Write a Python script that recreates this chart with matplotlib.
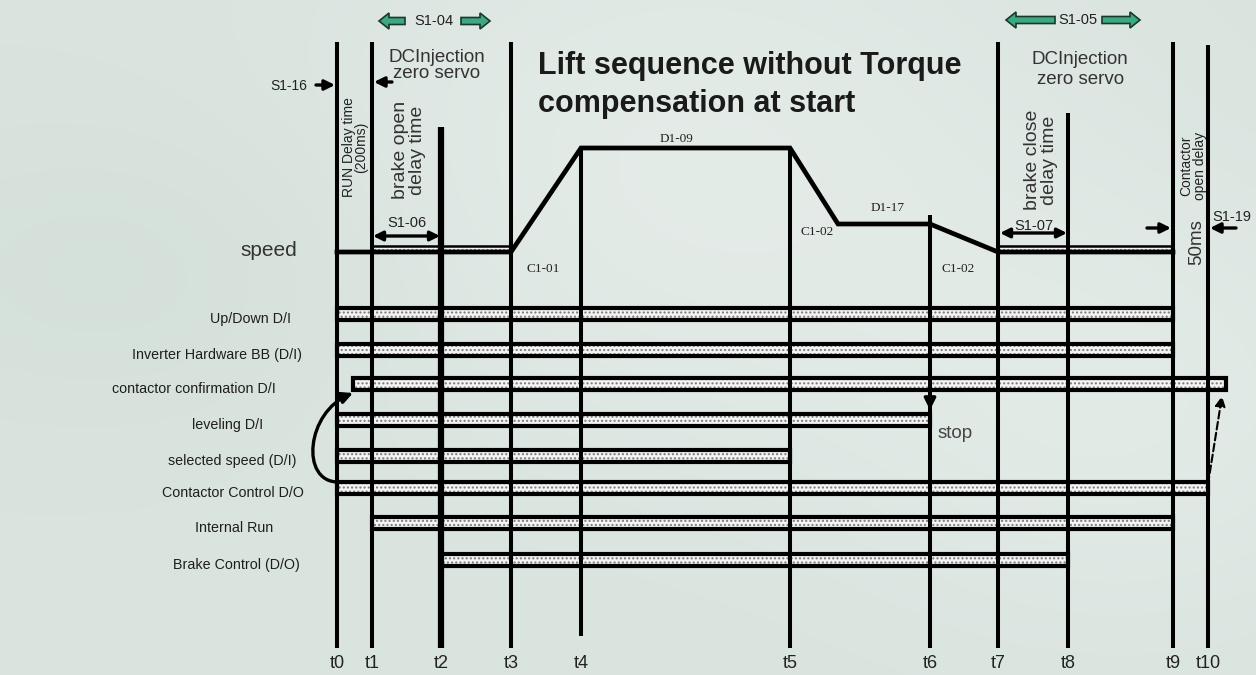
import numpy as np
import matplotlib
matplotlib.use("Agg")
import matplotlib.pyplot as plt
from matplotlib.patches import Rectangle, FancyArrowPatch, FancyArrow
from matplotlib.path import Path
from matplotlib import font_manager as fm

# ---------------- data (pixel space) ----------------
t_names = ["t0", "t1", "t2", "t3", "t4", "t5", "t6", "t7", "t8", "t9", "t10"]
t_pos = [337, 372, 441, 511, 581, 790, 930, 998, 1068, 1173, 1208]
t_top = [42, 42, 127, 42, 148, 148, 215, 42, 113, 42, 45]
t_bottom = [648, 648, 648, 648, 636, 648, 648, 648, 648, 648, 648]

speed_x = [337, 511, 581, 790, 838, 930, 998, 1173]
speed_y = [252, 252, 148, 148, 224, 224, 252, 252]
speed_labels = ["C1-01", "D1-09", "C1-02", "D1-17", "C1-02"]
speed_label_xy = [(543, 269), (676, 139), (817, 232), (888, 208), (958, 269)]

signal_names = ["Up/Down D/I", "Inverter Hardware BB (D/I)", "contactor confirmation D/I",
                "leveling D/I", "selected speed (D/I)", "Contactor Control D/O",
                "Internal Run", "Brake Control (D/O)"]
signal_start = [337, 337, 353, 337, 337, 337, 372, 441]
signal_end = [1173, 1173, 1226, 930, 790, 1208, 1173, 1068]
signal_y = [314, 350, 384, 420, 456, 488, 523, 560]
label_cx = [251, 217, 194, 228, 232, 233, 234, 236]

# ---------------- fonts ----------------
avail = {f.name for f in fm.fontManager.ttflist}
narrow = "Liberation Sans Narrow" if "Liberation Sans Narrow" in avail else "Liberation Sans"
SANS = ["Liberation Sans", "DejaVu Sans"]
NARROW = [narrow, "DejaVu Sans"]
SERIF = ["Liberation Serif", "DejaVu Serif"]

W, H = 1256, 675
fig = plt.figure(figsize=(W / 100, H / 100), dpi=100)
ax = fig.add_axes([0, 0, 1, 1])
ax.set_xlim(0, W)
ax.set_ylim(H, 0)
ax.axis("off")

# ---------------- background ----------------
yy, xx = np.mgrid[0:1:135j, 0:1:252j]
b = 0.5 + 0.25 * np.exp(-((xx - 0.55) ** 2 / 0.08 + (yy - 0.25) ** 2 / 0.15)) \
    + 0.2 * np.exp(-((xx - 0.9) ** 2 / 0.05 + (yy - 0.6) ** 2 / 0.1)) \
    - 0.15 * np.exp(-((xx - 0.1) ** 2 / 0.05 + (yy - 0.4) ** 2 / 0.05))
b = np.clip(b, 0, 1)
dark = np.array([0.78, 0.84, 0.81])
light = np.array([0.93, 0.95, 0.94])
img = dark[None, None, :] * (1 - b[..., None]) + light[None, None, :] * b[..., None]
ax.imshow(img, extent=(0, W, H, 0), aspect="auto", zorder=0, interpolation="bicubic")

# ---------------- vertical time lines ----------------
for name, x, yt, yb in zip(t_names, t_pos, t_top, t_bottom):
    lw = 4.5 if name == "t2" else 2.9
    ax.plot([x, x], [yt, yb], color="black", lw=lw, zorder=5, solid_capstyle="butt")
    ax.text(x, 663, name, ha="center", va="center", fontsize=13, family=NARROW, color="#222")

# ---------------- speed profile ----------------
ax.plot(speed_x, speed_y, color="black", lw=3.4, zorder=6, solid_joinstyle="miter")


def bar(x0, x1, yc, h, lw, zorder=4):
    ax.add_patch(Rectangle((x0, yc - h / 2), x1 - x0, h, facecolor="#f4f4f4",
                           edgecolor="#7a7a7a", hatch="....", lw=0, zorder=zorder))
    ax.add_patch(Rectangle((x0, yc - h / 2), x1 - x0, h, fill=False,
                           edgecolor="black", lw=lw, zorder=zorder + 0.5))


# thin DC injection bars on the zero-speed line
bar(t_pos[1], t_pos[3], 248.5, 6, 1.8)
bar(t_pos[7], t_pos[9], 248.5, 6, 1.8)

# ---------------- signal bars ----------------
for name, x0, x1, yc, cx in zip(signal_names, signal_start, signal_end, signal_y, label_cx):
    bar(x0, x1, yc, 12, 3.0)
    ax.text(cx, yc + 5, name, ha="center", va="center", fontsize=10.3, family=SANS, color="#1e1e1e")

# ---------------- texts ----------------
ax.text(538, 66, "Lift sequence without Torque", fontsize=22, fontweight="bold",
        family=SANS, color="#1a1a1a", va="center", ha="left")
ax.text(538, 104, "compensation at start", fontsize=22, fontweight="bold",
        family=SANS, color="#1a1a1a", va="center", ha="left")

ax.text(269, 250, "speed", fontsize=15, family=SANS, color="#333", ha="center", va="center")
ax.text(955, 434, "stop", fontsize=13.5, family=SANS, color="#444", ha="center", va="center")

for (lx, ly), s in zip(speed_label_xy, speed_labels):
    ax.text(lx, ly, s, fontsize=9.5, family=SERIF, color="#222", ha="center", va="center")

# DC injection labels
ax.text(437, 57, "DCInjection", fontsize=13.5, family=NARROW, color="#333", ha="center", va="center")
ax.text(437, 74, "zero servo", fontsize=13.5, family=NARROW, color="#333", ha="center", va="center")
ax.text(1080, 59, "DCInjection", fontsize=13.5, family=NARROW, color="#333", ha="center", va="center")
ax.text(1081, 80, "zero servo", fontsize=13.5, family=NARROW, color="#333", ha="center", va="center")

# rotated notes
ax.text(355, 147, "RUN Delay time\n(200ms)", rotation=90, fontsize=10, family=NARROW,
        color="#222", ha="center", va="center", linespacing=0.9)
ax.text(409, 150, "brake open\ndelay time", rotation=90, fontsize=14, family=NARROW,
        color="#333", ha="center", va="center", linespacing=0.95)
ax.text(1041, 160, "brake close\ndelay time", rotation=90, fontsize=14, family=NARROW,
        color="#333", ha="center", va="center", linespacing=0.95)
ax.text(1193, 166, "Contactor\nopen delay", rotation=90, fontsize=10, family=NARROW,
        color="#222", ha="center", va="center", linespacing=0.95)
ax.text(1197, 242, "50ms", rotation=90, fontsize=13.5, family=NARROW,
        color="#333", ha="center", va="center")

# parameter labels
ax.text(289, 86, "S1-16", fontsize=10, family=NARROW, color="#222", ha="center", va="center")
ax.text(407, 223, "S1-06", fontsize=10.5, family=NARROW, color="#222", ha="center", va="center")
ax.text(1034, 226, "S1-07", fontsize=10.5, family=NARROW, color="#222", ha="center", va="center")
ax.text(1232, 217, "S1-19", fontsize=10.5, family=NARROW, color="#222", ha="center", va="center")
ax.text(434, 21, "S1-04", fontsize=10.5, family=NARROW, color="#222", ha="center", va="center")
ax.text(1078, 20, "S1-05", fontsize=10.5, family=NARROW, color="#222", ha="center", va="center")


# ---------------- arrows ----------------
def arr(p0, p1, style="-|>", lw=2.4, ms=15, ls="-", z=8):
    ax.add_patch(FancyArrowPatch(p0, p1, arrowstyle=style, mutation_scale=ms, lw=lw,
                                 color="black", linestyle=ls, zorder=z,
                                 shrinkA=0, shrinkB=0))


arr((316, 85), (335, 85))
arr((392, 82), (374, 82))
arr((373, 236), (440, 236), style="<|-|>", ms=14)
arr((1000, 233), (1067, 233), style="<|-|>", ms=14)
arr((1147, 228), (1171, 228))
arr((1236, 228), (1210, 228))
arr((930, 386), (930, 410), ms=17)
arr((1208, 484), (1222, 396), ls="--", lw=1.5, ms=15)

curve = Path([(338, 482), (300, 482), (306, 412), (353, 393)],
             [Path.MOVETO, Path.CURVE4, Path.CURVE4, Path.CURVE4])
ax.add_patch(FancyArrowPatch(path=curve, arrowstyle="-|>", mutation_scale=17, lw=2.4,
                             color="black", zorder=8))

# green block arrows
green = "#3da882"
for x0, x1, y in [(405, 379, 21), (461, 490, 21), (1055, 1006, 20), (1102, 1140, 20)]:
    dx = x1 - x0
    ax.add_patch(FancyArrow(x0, y, dx, 0, width=7, head_width=16, head_length=10,
                            length_includes_head=True, facecolor=green,
                            edgecolor="#173a2c", lw=1.2, zorder=8))

fig.savefig("out.png", dpi=100)
